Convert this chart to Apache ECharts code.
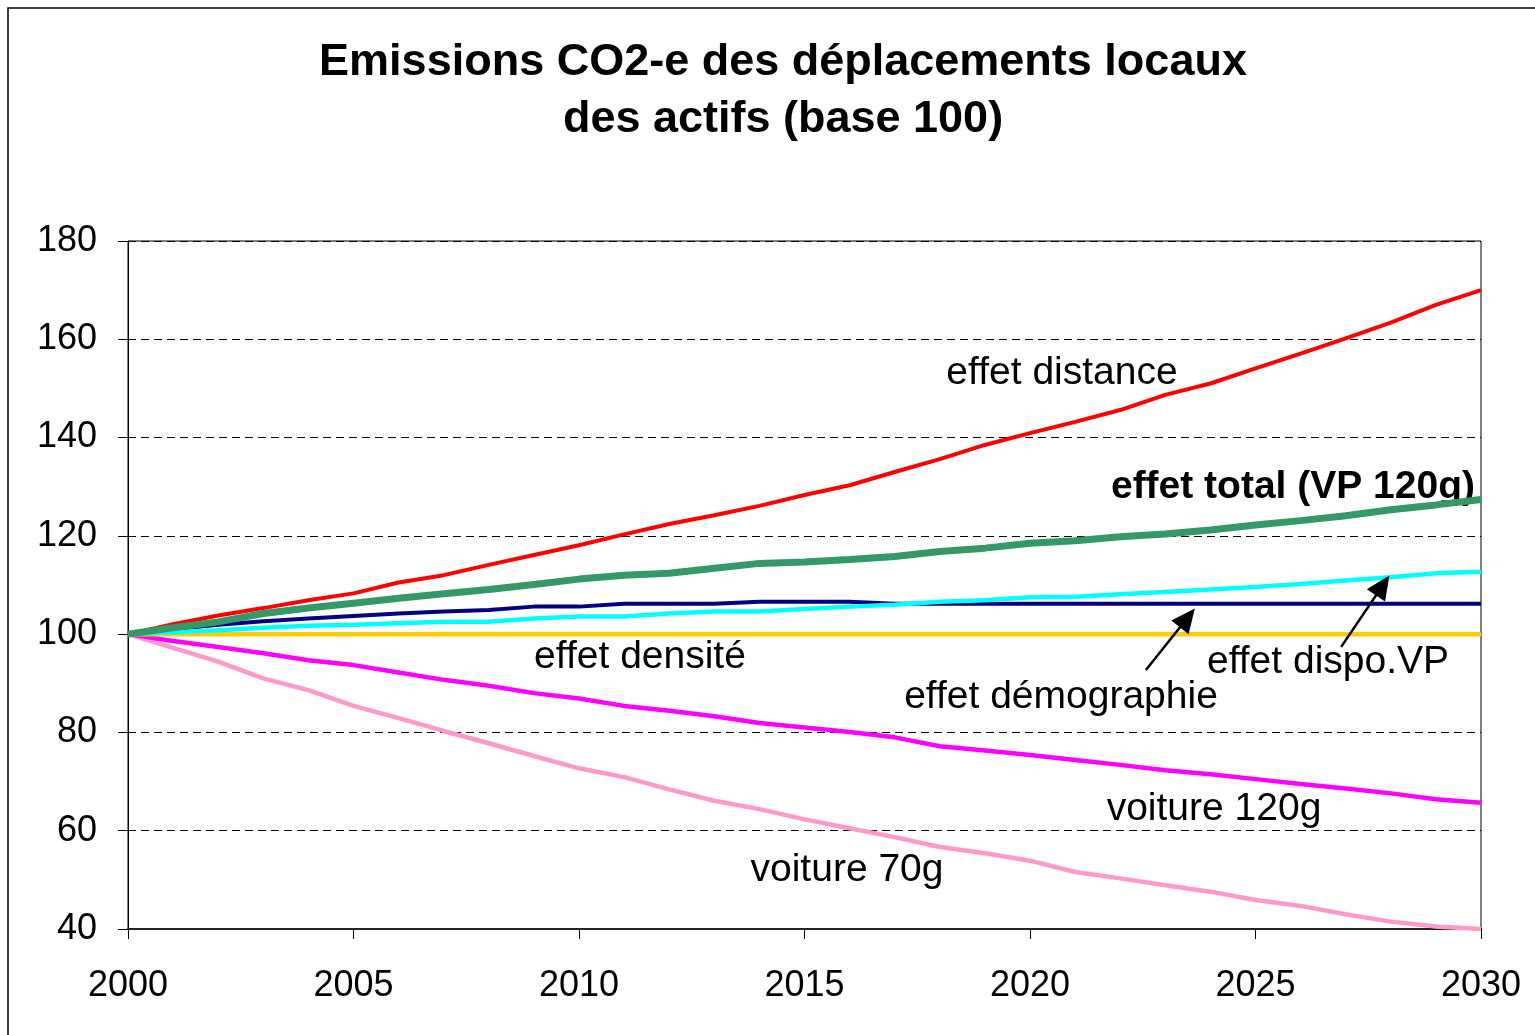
<!DOCTYPE html>
<html>
<head>
<meta charset="utf-8">
<script src="https://cdn.jsdelivr.net/npm/echarts@6/dist/echarts.min.js"></script>
<style>
  html, body { margin: 0; padding: 0; background: #fff; }
  #chart { width: 1535px; height: 1035px; }
</style>
</head>
<body>
<div id="chart"></div>
<script>
var years = [2000, 2001, 2002, 2003, 2004, 2005, 2006, 2007, 2008, 2009, 2010,
             2011, 2012, 2013, 2014, 2015, 2016, 2017, 2018, 2019, 2020,
             2021, 2022, 2023, 2024, 2025, 2026, 2027, 2028, 2029, 2030];
var yTicks = [40, 60, 80, 100, 120, 140, 160, 180];

var effetDistance = [100, 102, 103.8, 105.3, 106.9, 108.3, 110.5, 112.0, 114.1, 116.1, 118.1,
                     120.3, 122.4, 124.2, 126.1, 128.3, 130.3, 133.0, 135.6, 138.5, 140.9,
                     143.2, 145.6, 148.7, 151.0, 154.1, 157.1, 160.2, 163.4, 167.0, 170.0];
var effetTotal = [100, 101.3, 102.5, 104.2, 105.3, 106.3, 107.3, 108.2, 109.1, 110.1, 111.2,
                  112.0, 112.4, 113.4, 114.4, 114.7, 115.2, 115.8, 116.8, 117.5, 118.5,
                  119.0, 119.8, 120.4, 121.2, 122.2, 123.1, 124.1, 125.3, 126.3, 127.4];
var effetDemographie = [100, 101, 101.9, 102.6, 103.2, 103.7, 104.2, 104.6, 104.9, 105.6, 105.6,
                        106.2, 106.2, 106.2, 106.6, 106.6, 106.6, 106.2, 106.2, 106.2, 106.2,
                        106.2, 106.2, 106.2, 106.2, 106.2, 106.2, 106.2, 106.2, 106.2, 106.2];
var effetDispoVP = [100, 100.4, 100.8, 101.3, 101.7, 101.9, 102.2, 102.5, 102.5, 103.2, 103.6,
                    103.6, 104.2, 104.6, 104.6, 105.1, 105.6, 106.0, 106.6, 106.9, 107.5,
                    107.6, 108.1, 108.6, 109.1, 109.6, 110.2, 110.9, 111.6, 112.4, 112.7];
var effetDensite = [100, 100, 100, 100, 100, 100, 100, 100, 100, 100, 100,
                    100, 100, 100, 100, 100, 100, 100, 100, 100, 100,
                    100, 100, 100, 100, 100, 100, 100, 100, 100, 100];
var voiture120g = [100, 98.6, 97.4, 96.1, 94.7, 93.7, 92.2, 90.7, 89.5, 88.0, 86.9,
                   85.4, 84.4, 83.3, 81.9, 81.0, 80.1, 79.0, 77.2, 76.3, 75.4,
                   74.4, 73.4, 72.3, 71.5, 70.5, 69.5, 68.6, 67.6, 66.4, 65.7];
var voiture70g = [100, 97.2, 94.4, 91.0, 88.6, 85.4, 82.9, 80.3, 77.8, 75.2, 72.7,
                  70.9, 68.4, 66.1, 64.4, 62.3, 60.5, 58.7, 56.7, 55.4, 53.9,
                  51.6, 50.3, 48.9, 47.6, 45.9, 44.7, 43.0, 41.5, 40.5, 40.0];

// arrows pointing at the two lines (tail -> head, in data units)
var arrowDemographie = [[2022.57, 92.7], [2023.49, 103.3]];
var arrowDispoVP = [[2026.9, 97.4], [2027.82, 109.9]];

function pairs(vals) {
    var out = [];
    for (var i = 0; i < years.length; i++) out.push([years[i], vals[i]]);
    return out;
}

function line(name, vals, color, width) {
    return {
        name: name,
        type: 'line',
        data: pairs(vals),
        symbol: 'none',
        silent: true,
        lineStyle: { color: color, width: width },
        itemStyle: { color: color }
    };
}

var FONT = '"Liberation Sans", Arial, sans-serif';

var chart = echarts.init(document.getElementById('chart'));

var densite = line('effet densité', effetDensite, '#FFCC00', 4.5);
densite.markLine = {
    silent: true,
    symbol: ['none', 'triangle'],
    symbolSize: [22, 24],
    label: { show: false },
    lineStyle: { color: '#000', width: 2.5, type: 'solid' },
    data: [
        [{ coord: arrowDemographie[0] }, { coord: arrowDemographie[1] }],
        [{ coord: arrowDispoVP[0] }, { coord: arrowDispoVP[1] }]
    ]
};

function txt(x, y, text, align, bold) {
    return {
        type: 'text',
        x: x, y: y,
        silent: true,
        style: {
            text: text,
            fill: '#000',
            font: (bold ? 'bold ' : '') + '39px ' + FONT,
            align: align || 'center',
            verticalAlign: 'middle'
        }
    };
}

chart.setOption({
    animation: false,
    backgroundColor: '#fff',
    title: {
        text: 'Emissions CO2-e des déplacements locaux\ndes actifs (base 100)',
        left: 778,
        textAlign: 'center',
        top: 29,
        textStyle: {
            fontFamily: FONT,
            fontWeight: 'bold',
            fontSize: 45,
            lineHeight: 57,
            color: '#000'
        }
    },
    grid: {
        left: 128, right: 54, top: 241, bottom: 106,
        show: true,
        borderColor: '#000',
        borderWidth: 1
    },
    xAxis: {
        type: 'value',
        min: 2000, max: 2030, interval: 5,
        axisLine: { lineStyle: { color: '#222', width: 2 } },
        axisTick: { show: true, inside: false, length: 10, lineStyle: { color: '#000' } },
        axisLabel: {
            color: '#000', fontFamily: FONT, fontSize: 36, margin: 39,
            formatter: function (v) { return String(v); }
        },
        splitLine: { show: false }
    },
    yAxis: {
        type: 'value',
        min: yTicks[0], max: yTicks[yTicks.length - 1], interval: 20,
        axisLine: { show: true, lineStyle: { color: '#000', width: 1 } },
        axisTick: { show: true, length: 10, lineStyle: { color: '#000' } },
        axisLabel: { color: '#000', fontFamily: FONT, fontSize: 36, margin: 31 },
        splitLine: { show: true, lineStyle: { color: '#000', type: [8, 5], width: 1 } }
    },
    series: [
        line('voiture 70g', voiture70g, '#FF99CC', 4.5),
        line('voiture 120g', voiture120g, '#FF00FF', 4.5),
        densite,
        line('effet démographie', effetDemographie, '#000080', 4),
        line('effet dispo.VP', effetDispoVP, '#00FFFF', 4.5),
        line('effet distance', effetDistance, '#FF0000', 4),
        line('effet total (VP 120g)', effetTotal, '#339966', 7)
    ],
    graphic: [
        { type: 'rect', silent: true, shape: { x: 8, y: 8, width: 1540, height: 1040 },
          style: { fill: 'none', stroke: '#000', lineWidth: 1.5 }, z: 100 },
        txt(1062, 373, 'effet distance'),
        txt(1475, 487, 'effet total (VP 120g)', 'right', true),
        txt(640, 657, 'effet densité'),
        txt(1328, 662, 'effet dispo.VP'),
        txt(1061, 697, 'effet démographie'),
        txt(1214, 809, 'voiture 120g'),
        txt(847, 870, 'voiture 70g')
    ]
});
</script>
</body>
</html>
